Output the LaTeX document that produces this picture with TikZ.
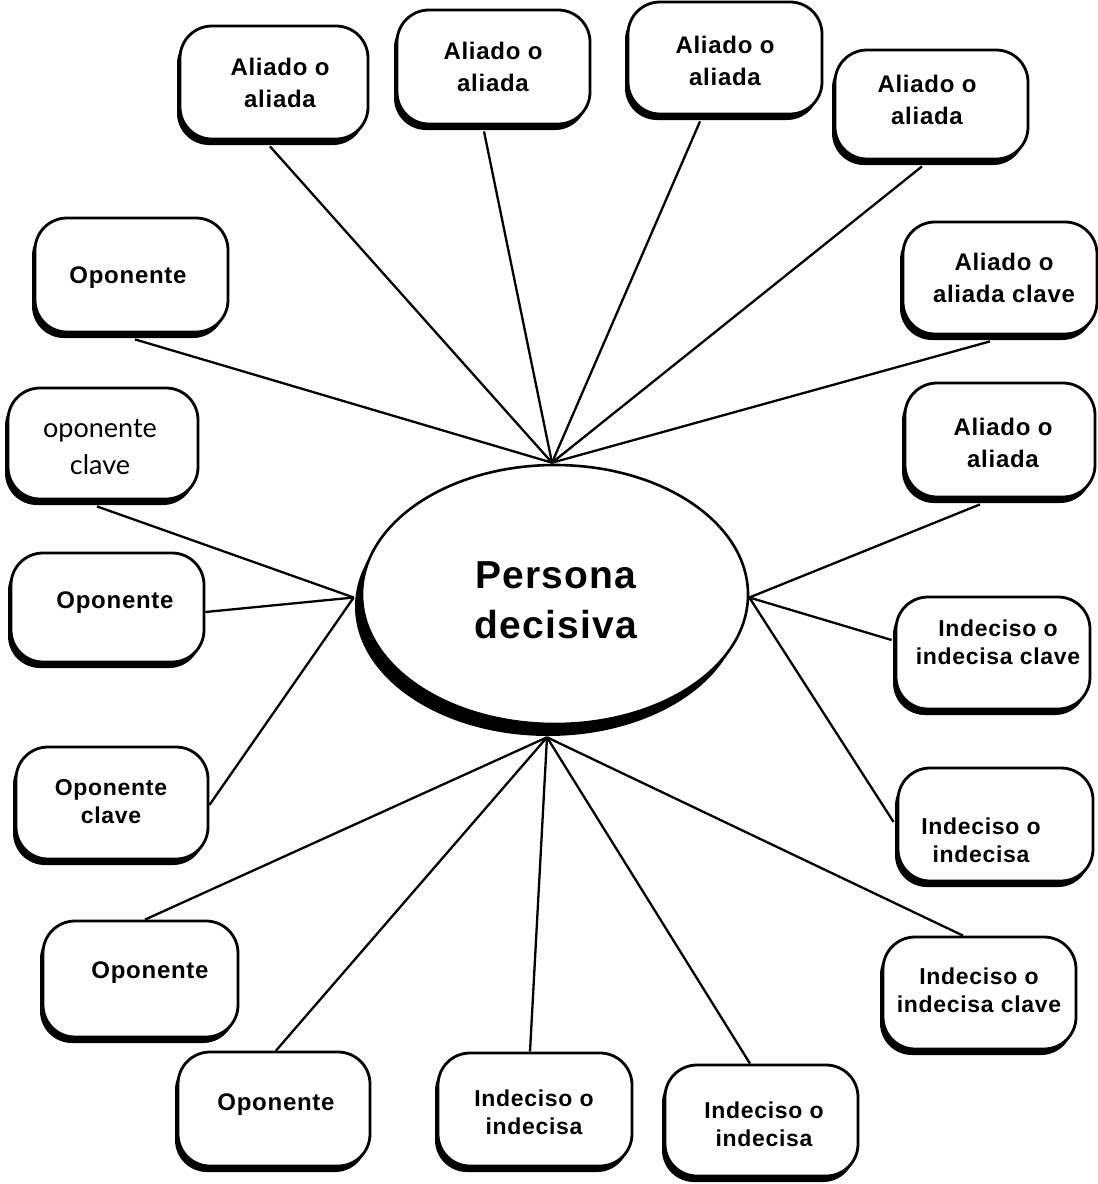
\documentclass[tikz,border=0pt]{standalone}
\usepackage{fontspec}
\setmainfont{Liberation Sans}
\newfontfamily\spacedsans[LetterSpace=3, BoldFont={Liberation Sans Bold}]{Liberation Sans}
\newfontfamily\softsans{Lato}
\usetikzlibrary{shadows,calc,shapes.geometric}

\tikzset{
  card/.style 2 args={draw=black, line width=1.4pt, fill=white,
    rounded corners=16pt, inner sep=0pt,
    minimum width=#1*0.5pt, minimum height=#2*0.5pt,
    drop shadow={shadow xshift=-1.5pt, shadow yshift=-3pt, fill=black, opacity=1}},
  hub/.style={ellipse, draw=black, line width=1.3pt, fill=white, inner sep=0pt,
    minimum width=386*0.5pt, minimum height=259*0.5pt,
    drop shadow={shadow xshift=-3.5pt, shadow yshift=-6pt, fill=black, opacity=1}},
  lblA/.style={font=\spacedsans\bfseries\fontsize{12}{16}\selectfont, align=center, inner sep=0pt},
  lblB/.style={font=\spacedsans\bfseries\fontsize{11.5}{14}\selectfont, align=center, inner sep=0pt},
  lblSoft/.style={font=\softsans\fontsize{13.5}{18.5}\selectfont, align=center, inner sep=0pt},
  lblHub/.style={font=\spacedsans\bfseries\fontsize{19.5}{25}\selectfont, align=center, inner sep=0pt},
  link/.style={draw=black, line width=1.15pt}
}

\begin{document}
\begin{tikzpicture}[x=0.5pt, y=-0.5pt]
\useasboundingbox (0,0) rectangle (1098,1184);

% central ellipse
\node[hub] (E) at (555,594.5) {};
\node[lblHub] (Et) at (556,600) {Persona\\decisiva};

% surrounding boxes
\node[card={188}{113}] (b1) at (274,82.5) {};
\node[card={193}{114}] (b2) at (493.5,67) {};
\node[card={194}{112}] (b3) at (725,58) {};
\node[card={193}{109}] (b4) at (931.5,104.5) {};
\node[card={194}{112}] (b5) at (1000,278) {};
\node[card={190}{114}] (b6) at (1000,440) {};
\node[card={194}{112}] (b7) at (993,653) {};
\node[card={195}{113}] (b8) at (995.5,824.5) {};
\node[card={193}{112}] (b9) at (979.5,993) {};
\node[card={193}{111}] (b10) at (761.5,1120.5) {};
\node[card={194}{113}] (b11) at (535,1109.5) {};
\node[card={192}{114}] (b12) at (274,1109) {};
\node[card={195}{116}] (b13) at (140.5,979) {};
\node[card={192}{112}] (b14) at (112,803) {};
\node[card={193}{109}] (b15) at (107.5,607.5) {};
\node[card={190}{111}] (b16) at (103,443.5) {};
\node[card={193}{114}] (b17) at (131.5,275) {};

% box texts
\node[lblA] (t1) at (280,83) {Aliado o\\aliada};
\node[lblA] (t2) at (493,67) {Aliado o\\aliada};
\node[lblA] (t3) at (725,61) {Aliado o\\aliada};
\node[lblA] (t4) at (927,100) {Aliado o\\aliada};
\node[lblA] (t5) at (1004,278) {Aliado o\\aliada clave};
\node[lblA] (t6) at (1003,443) {Aliado o\\aliada};
\node[lblB] (t7) at (998,642) {Indeciso o\\indecisa clave};
\node[lblB] (t8) at (981,840) {Indeciso o\\indecisa};
\node[lblB] (t9) at (979,990) {Indeciso o\\indecisa clave};
\node[lblB] (t10) at (764,1124) {Indeciso o\\indecisa};
\node[lblB] (t11) at (534,1112) {Indeciso o\\indecisa};
\node[lblA] (t12) at (276,1105) {Oponente};
\node[lblA] (t13) at (150,973) {Oponente};
\node[lblB] (t14) at (111,802) {Oponente\\clave};
\node[lblA] (t15) at (115,603) {Oponente};
\node[lblSoft] (t16) at (100,447) {oponente\\clave};
\node[lblA] (t17) at (128,278) {Oponente};

% meeting points on the ellipse
\coordinate (T) at ($(E.north)+(-3,-1)$);
\coordinate (L) at ($(E.west)+(-7,3)$);
\coordinate (R) at ($(E.east)+(0,3)$);
\coordinate (B) at ($(E.south)+(-8,12)$);

% connectors
\draw[link] ($(b1.south)+(-4,6)$) -- (T);
\draw[link] ($(b2.south)+(-9.5,6)$) -- (T);
\draw[link] ($(b3.south)+(-25,6)$) -- (T);
\draw[link] ($(b4.south)+(-9.5,6)$) -- (T);
\draw[link] ($(b5.south)+(-10,6)$) -- (T);
\draw[link] ($(b17.south)+(3.5,6)$) -- (T);
\draw[link] ($(b16.south)+(-6,6)$) -- (L);
\draw[link] ($(b15.east)+(0,4.5)$) -- (L);
\draw[link] ($(b14.east)+(0,2)$) -- (L);
\draw[link] ($(b6.south)+(-20,6)$) -- (R);
\draw[link] ($(b7.west)+(-3,-13)$) -- (R);
\draw[link] ($(b8.west)+(-3,-2.5)$) -- (R);
\draw[link] ($(b13.north)+(4.5,0)$) -- (B);
\draw[link] ($(b12.north)+(2,0)$) -- (B);
\draw[link] ($(b11.north)+(-5,0)$) -- (B);
\draw[link] ($(b10.north)+(-11.5,0)$) -- (B);
\draw[link] ($(b9.north)+(-16.5,0)$) -- (B);
\end{tikzpicture}
\end{document}
